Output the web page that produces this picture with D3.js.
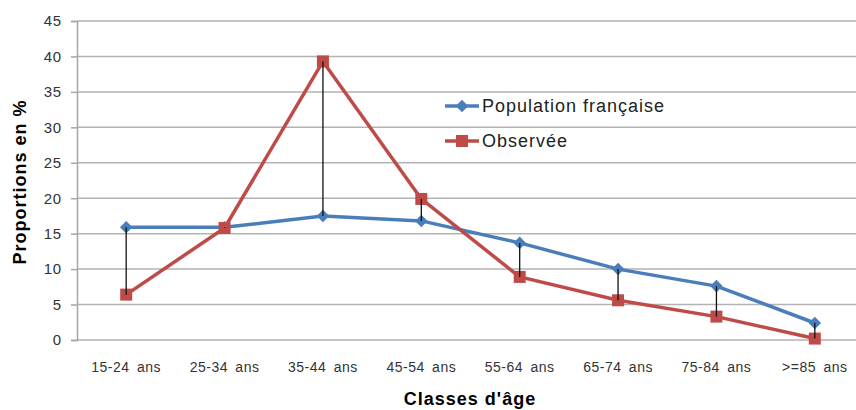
<!DOCTYPE html>
<html>
<head>
<meta charset="utf-8">
<script src="https://cdn.jsdelivr.net/npm/d3@7"></script>
<style>
  body { margin: 0; background: #fff; }
  text { font-family: "Liberation Sans", Arial, sans-serif; }
</style>
</head>
<body>
<svg id="chart" width="856" height="410"></svg>
<script>
const categories = ["15-24 ans", "25-34 ans", "35-44 ans", "45-54 ans", "55-64 ans", "65-74 ans", "75-84 ans", ">=85 ans"];
const population = [15.9, 15.9, 17.5, 16.8, 13.7, 10.0, 7.6, 2.4];
const observee = [6.4, 15.8, 39.3, 19.9, 8.9, 5.6, 3.3, 0.2];
const yTicks = [0, 5, 10, 15, 20, 25, 30, 35, 40, 45];

const width = 856, height = 410;
const margin = { top: 21, left: 77, bottom: 70 };
const plotRight = 864;

const svg = d3.select("#chart");

const x = d3.scaleBand()
  .domain(categories)
  .range([margin.left, plotRight]);

const y = d3.scaleLinear()
  .domain([0, 45])
  .range([height - margin.bottom, margin.top]);

const cx = d => x(d) + x.bandwidth() / 2;

// gridlines
svg.append("g")
  .selectAll("line")
  .data(yTicks)
  .enter()
  .append("line")
  .attr("x1", margin.left)
  .attr("x2", plotRight)
  .attr("y1", d => y(d))
  .attr("y2", d => y(d))
  .attr("stroke", "#b3b3b3")
  .attr("stroke-width", 1.5);

// y axis
const yAxis = svg.append("g")
  .attr("transform", "translate(" + margin.left + ",0)")
  .call(d3.axisLeft(y).tickValues(yTicks).tickSize(6).tickPadding(9));
yAxis.select(".domain").attr("stroke", "#a6a6a6").attr("stroke-width", 1.5);
yAxis.selectAll(".tick line").attr("stroke", "#a6a6a6").attr("stroke-width", 1.5);
yAxis.selectAll(".tick text")
  .attr("fill", "#333")
  .style("font-size", "15px")
  .style("letter-spacing", "0.8px")
  .style("font-family", "'Liberation Sans', Arial, sans-serif");

// x labels
svg.append("g")
  .selectAll("text")
  .data(categories)
  .enter()
  .append("text")
  .attr("x", d => cx(d))
  .attr("y", 372)
  .attr("text-anchor", "middle")
  .attr("fill", "#333")
  .style("font-size", "14px")
  .style("letter-spacing", "0.5px")
  .style("word-spacing", "3px")
  .text(d => d);

// axis titles
svg.append("text")
  .attr("x", 470)
  .attr("y", 405)
  .attr("text-anchor", "middle")
  .style("font-size", "18px")
  .style("letter-spacing", "1px")
  .style("font-weight", "bold")
  .text("Classes d'âge");

svg.append("text")
  .attr("transform", "translate(26,182) rotate(-90)")
  .attr("text-anchor", "middle")
  .style("font-size", "18px")
  .style("letter-spacing", "1px")
  .style("font-weight", "bold")
  .text("Proportions en %");

const line = d3.line()
  .x((d, i) => cx(categories[i]))
  .y(d => y(d));

const blue = "#4a7ebb", red = "#be4b48";

svg.append("path")
  .datum(population)
  .attr("d", line)
  .attr("fill", "none")
  .attr("stroke", blue)
  .attr("stroke-width", 3.5)
  .attr("stroke-linejoin", "round");

svg.append("path")
  .datum(observee)
  .attr("d", line)
  .attr("fill", "none")
  .attr("stroke", red)
  .attr("stroke-width", 3.5)
  .attr("stroke-linejoin", "round");

const diamond = d3.symbol().type(d3.symbolDiamond2).size(100);

svg.append("g")
  .selectAll("path")
  .data(population)
  .enter()
  .append("path")
  .attr("d", diamond)
  .attr("transform", (d, i) => "translate(" + cx(categories[i]) + "," + y(d) + ")")
  .attr("fill", blue);

svg.append("g")
  .selectAll("rect")
  .data(observee)
  .enter()
  .append("rect")
  .attr("x", (d, i) => cx(categories[i]) - 6)
  .attr("y", d => y(d) - 6)
  .attr("width", 12)
  .attr("height", 12)
  .attr("fill", red);

// high-low lines
svg.append("g")
  .selectAll("line")
  .data(categories)
  .enter()
  .append("line")
  .attr("x1", d => cx(d))
  .attr("x2", d => cx(d))
  .attr("y1", (d, i) => y(population[i]))
  .attr("y2", (d, i) => y(observee[i]))
  .attr("stroke", "#111")
  .attr("stroke-width", 1.3);

// legend
const legend = [
  { name: "Population française", color: blue, marker: "diamond", yPos: 106 },
  { name: "Observée", color: red, marker: "square", yPos: 141 }
];

const lg = svg.append("g");
legend.forEach(l => {
  lg.append("line")
    .attr("x1", 445).attr("x2", 479)
    .attr("y1", l.yPos).attr("y2", l.yPos)
    .attr("stroke", l.color).attr("stroke-width", 3.5);
  if (l.marker === "diamond") {
    lg.append("path")
      .attr("d", diamond)
      .attr("transform", "translate(462," + l.yPos + ")")
      .attr("fill", l.color);
  } else {
    lg.append("rect")
      .attr("x", 456).attr("y", l.yPos - 6)
      .attr("width", 12).attr("height", 12)
      .attr("fill", l.color);
  }
  lg.append("text")
    .attr("x", 482)
    .attr("y", l.yPos + 6)
    .attr("fill", "#222")
    .style("font-size", "18px")
    .style("letter-spacing", "1px")
    .text(l.name);
});
</script>
</body>
</html>
